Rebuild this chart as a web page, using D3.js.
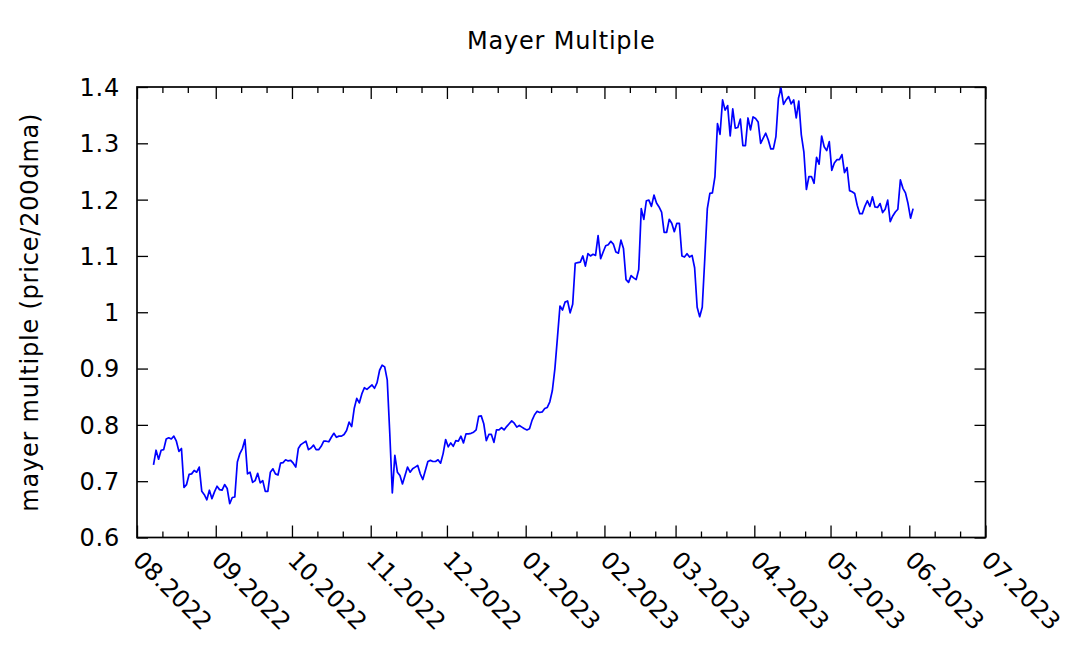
<!DOCTYPE html>
<html><head><meta charset="utf-8">
<script src="https://cdn.jsdelivr.net/npm/d3@7"></script>
<style>
body{margin:0;background:#fff}
svg{display:block}
text{font-family:"DejaVu Sans",sans-serif;fill:#000;letter-spacing:0.8px}
.xlab text{letter-spacing:0px}
</style>
</head><body>
<svg id="chart" width="1066" height="647"></svg>
<script>
const chartTitle = "Mayer Multiple";
const yAxisLabel = "mayer multiple (price/200dma)";
const seriesStart = "2022-08-07 12";
const mayerMultiple = [
0.729,0.755,0.739,0.755,0.756,0.775,0.777,0.775,0.780,0.771,0.753,0.758,0.689,0.694,0.712,0.713,0.719,0.716,0.725,0.682,
0.676,0.667,0.684,0.669,0.681,0.691,0.685,0.684,0.694,0.687,0.660,0.671,0.672,0.734,0.749,0.758,0.774,0.713,0.716,0.698,
0.701,0.714,0.697,0.701,0.682,0.682,0.716,0.722,0.713,0.711,0.732,0.733,0.738,0.736,0.737,0.732,0.725,0.758,0.765,0.768,
0.771,0.756,0.759,0.764,0.756,0.756,0.762,0.771,0.771,0.770,0.778,0.785,0.778,0.780,0.780,0.783,0.790,0.805,0.797,0.829,
0.847,0.839,0.855,0.866,0.863,0.867,0.871,0.865,0.875,0.897,0.906,0.903,0.880,0.785,0.679,0.746,0.716,0.710,0.695,0.710,
0.725,0.716,0.722,0.725,0.728,0.713,0.703,0.719,0.735,0.737,0.735,0.735,0.738,0.732,0.749,0.774,0.761,0.768,0.762,0.772,
0.771,0.780,0.768,0.784,0.784,0.785,0.787,0.791,0.815,0.816,0.802,0.772,0.783,0.783,0.769,0.791,0.791,0.795,0.791,0.797,
0.802,0.807,0.803,0.796,0.799,0.796,0.793,0.791,0.793,0.808,0.818,0.824,0.822,0.823,0.829,0.831,0.841,0.861,0.900,0.955,
1.011,1.004,1.018,1.020,0.999,1.014,1.087,1.088,1.089,1.100,1.082,1.104,1.100,1.103,1.101,1.136,1.095,1.107,1.118,1.120,
1.126,1.121,1.107,1.105,1.128,1.113,1.058,1.053,1.065,1.061,1.058,1.076,1.184,1.165,1.198,1.199,1.188,1.208,1.194,1.187,
1.178,1.142,1.142,1.165,1.158,1.143,1.158,1.158,1.100,1.098,1.104,1.098,1.101,1.079,1.009,0.992,1.009,1.095,1.184,1.211,
1.212,1.241,1.335,1.316,1.377,1.359,1.367,1.313,1.361,1.327,1.328,1.343,1.296,1.296,1.345,1.324,1.347,1.344,1.338,1.300,
1.309,1.318,1.306,1.290,1.290,1.312,1.380,1.398,1.369,1.377,1.383,1.370,1.377,1.345,1.375,1.315,1.285,1.218,1.241,1.241,
1.229,1.275,1.263,1.313,1.294,1.287,1.303,1.252,1.265,1.271,1.271,1.280,1.248,1.257,1.216,1.214,1.211,1.190,1.175,1.175,
1.188,1.198,1.188,1.205,1.187,1.186,1.193,1.177,1.183,1.199,1.161,1.171,1.178,1.183,1.235,1.220,1.212,1.193,1.167,1.184
];
const xDomainDates = ["2022-08-01","2023-07-01"];
const xMajorTicks = ["2022-08-01","2022-09-01","2022-10-01","2022-11-01","2022-12-01","2023-01-01",
  "2023-02-01","2023-03-01","2023-04-01","2023-05-01","2023-06-01","2023-07-01"];
const xMinorDayOffsets = [10, 20];
const xTickFormat = "%m.%Y";
const yDomain = [0.6, 1.4];
const yTicks = [0.6,0.7,0.8,0.9,1.0,1.1,1.2,1.3,1.4];
const yTickLabels = ["0.6","0.7","0.8","0.9","1","1.1","1.2","1.3","1.4"];

const W = 1066, H = 647;
const m = {left:137, right:1066-985.5, top:87, bottom:647-537.5};
const pw = W - m.left - m.right, ph = H - m.top - m.bottom;
const FS = 24;

const parseDay = d3.timeParse("%Y-%m-%d");
const parseStart = d3.timeParse("%Y-%m-%d %H");
const t0 = parseStart(seriesStart);
const data = mayerMultiple.map((v,i)=>({date:d3.timeDay.offset(t0,i), value:v}));

const x = d3.scaleTime().domain(xDomainDates.map(parseDay)).range([0,pw]);
const y = d3.scaleLinear().domain(yDomain).range([ph,0]);

const svg = d3.select("#chart");
svg.append("rect").attr("width",W).attr("height",H).attr("fill","#fff");
const g = svg.append("g").attr("transform",`translate(${m.left},${m.top})`);

const majors = xMajorTicks.map(parseDay);
const minors = [];
majors.slice(0,-1).forEach(d=>xMinorDayOffsets.forEach(o=>minors.push(d3.timeDay.offset(d,o))));

function styleAxis(sel){
  sel.select(".domain").remove();
  sel.selectAll(".tick line").attr("stroke","#000").attr("stroke-width",1.3);
  sel.selectAll("text").style("font-size",FS+"px").attr("fill","#000");
}

// left y axis
g.append("g").call(d3.axisLeft(y).tickValues(yTicks).tickFormat((d,i)=>yTickLabels[i]).tickSizeInner(-11).tickSizeOuter(0).tickPadding(17))
  .call(styleAxis).call(s=>s.selectAll("text").attr("dy","0.35em"));
// right y axis
g.append("g").attr("transform",`translate(${pw},0)`)
  .call(d3.axisRight(y).tickValues(yTicks).tickFormat("").tickSizeInner(-11).tickSizeOuter(0)).call(styleAxis);
// bottom major
const bx = g.append("g").attr("class","xlab").attr("transform",`translate(0,${ph})`)
  .call(d3.axisBottom(x).tickValues(majors).tickFormat(d3.timeFormat(xTickFormat)).tickSizeInner(-12).tickSizeOuter(0))
  .call(styleAxis);
bx.selectAll("text").attr("x",0).attr("y",0).attr("dy","0.35em")
  .attr("text-anchor","start").attr("transform","translate(0,18) rotate(45)");
// bottom minor
g.append("g").attr("transform",`translate(0,${ph})`)
  .call(d3.axisBottom(x).tickValues(minors).tickFormat("").tickSizeInner(-6).tickSizeOuter(0)).call(styleAxis);
// top major & minor
g.append("g").call(d3.axisTop(x).tickValues(majors).tickFormat("").tickSizeInner(-12).tickSizeOuter(0)).call(styleAxis);
g.append("g").call(d3.axisTop(x).tickValues(minors).tickFormat("").tickSizeInner(-6).tickSizeOuter(0)).call(styleAxis);

// border
g.append("rect").attr("width",pw).attr("height",ph).attr("fill","none").attr("stroke","#000").attr("stroke-width",1.7);

// line
const line = d3.line().x(d=>x(d.date)).y(d=>y(d.value));
g.append("path").datum(data).attr("d",line).attr("fill","none").attr("stroke","#0000ff").attr("stroke-width",1.7).attr("stroke-linejoin","round");

// title
svg.append("text").attr("x",m.left+pw/2).attr("y",49).attr("text-anchor","middle").style("font-size",FS+"px").text(chartTitle);
// y label
svg.append("text").attr("transform",`translate(38,${m.top+ph/2}) rotate(-90)`).attr("text-anchor","middle").style("font-size",FS+"px").text(yAxisLabel);
</script>
</body></html>
